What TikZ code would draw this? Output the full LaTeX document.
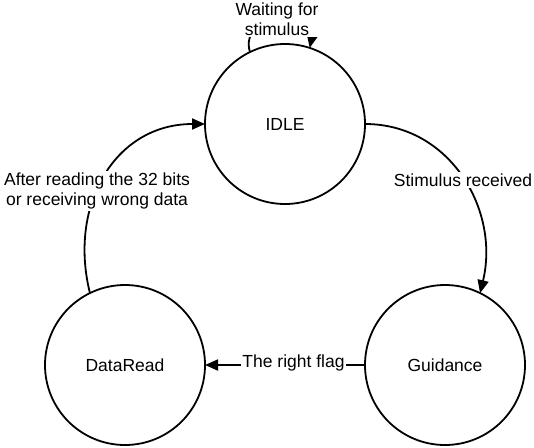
\documentclass[tikz,border=0pt]{standalone}
\usepackage{fontspec}
\setmainfont{Liberation Sans}
\usetikzlibrary{arrows.meta}
\begin{document}
\begin{tikzpicture}[x=1pt,y=-1pt,
  state/.style={circle,draw,line width=1.8pt,minimum size=160pt,inner sep=0pt,outer sep=0pt,font=\fontsize{17.5}{20}\selectfont},
  lbl/.style={fill=white,inner sep=1.5pt,align=center,font=\fontsize{17.5}{20}\selectfont},
  conn/.style={line width=1.8pt,-{Triangle[length=13pt,width=11pt]}}]
\useasboundingbox (0,0) rectangle (534,447);
\node[state] (idle) at (285,124) {IDLE};
\node[state] (dr) at (125,365) {DataRead};
\node[state] (gd) at (445,365) {Guidance};
% self loop
\draw[conn] (idle.116) .. controls (238,12) and (318,8) .. (idle.72);
\node[lbl] (wl) at (277,19) {Waiting for\\stimulus};
% stimulus received
\draw[conn] (idle.east) .. controls (450,124) and (500,210) .. (gd.64);
\node[lbl] (sl) at (463,180) {Stimulus received};
% right flag
\draw[conn] (gd.west) -- (dr.east);
\node[lbl] (rl) at (293.5,363) {The right flag};
% after reading
\draw[conn] (dr.116) .. controls (68,205) and (115,124) .. (idle.west);
\node[lbl] (al) at (97,191) {After reading the 32 bits\\or receiving wrong data};
\end{tikzpicture}
\end{document}
